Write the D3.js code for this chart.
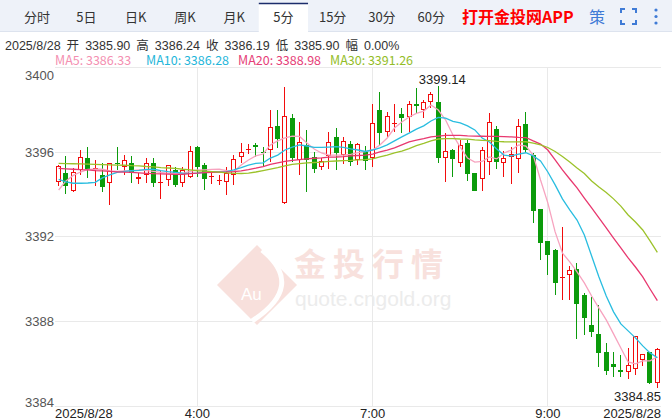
<!DOCTYPE html>
<html><head><meta charset="utf-8">
<script src="https://cdn.jsdelivr.net/npm/d3@7"></script>
<style>body{margin:0;background:#fff}svg{display:block;font-family:"Noto Sans CJK SC","Noto Sans",sans-serif}</style>
</head><body><svg id="c" width="672" height="420"></svg>
<script>
const categories=["2:25","2:30","2:35","2:40","2:45","2:50","2:55","3:00","3:05","3:10","3:15","3:20","3:25","3:30","3:35","3:40","3:45","3:50","3:55","4:00","4:05","4:10","4:15","4:20","4:25","4:30","4:35","4:40","4:45","4:50","4:55","5:00","6:05","6:10","6:15","6:20","6:25","6:30","6:35","6:40","6:45","6:50","6:55","7:00","7:05","7:10","7:15","7:20","7:25","7:30","7:35","7:40","7:45","7:50","7:55","8:00","8:05","8:10","8:15","8:20","8:25","8:30","8:35","8:40","8:45","8:50","8:55","9:00","9:05","9:10","9:15","9:20","9:25","9:30","9:35","9:40","9:45","9:50","9:55","10:00","10:05","10:10","10:15"];
const openV=[3394.60,3395.00,3394.14,3395.16,3395.71,3395.16,3394.92,3394.53,3395.49,3395.31,3395.47,3394.72,3394.92,3395.47,3394.58,3394.68,3395.16,3394.53,3394.84,3396.23,3395.39,3394.81,3394.67,3394.57,3394.92,3395.76,3396.13,3396.32,3395.99,3396.10,3397.24,3393.58,3397.63,3395.63,3396.34,3395.76,3395.28,3395.82,3396.70,3395.87,3396.37,3395.63,3396.02,3395.71,3397.99,3396.97,3397.35,3397.80,3397.65,3398.27,3397.99,3398.38,3398.36,3395.71,3396.10,3395.47,3396.42,3395.00,3394.72,3395.55,3397.08,3395.47,3395.76,3395.66,3397.33,3395.87,3393.30,3391.80,3391.38,3390.08,3390.17,3390.46,3389.25,3387.83,3387.41,3386.57,3385.99,3385.68,3385.61,3385.74,3386.18,3386.54,3385.08];
const highV=[3395.38,3395.82,3395.26,3396.10,3396.26,3395.63,3395.50,3395.50,3396.26,3395.87,3395.82,3395.01,3395.71,3395.71,3395.16,3395.40,3395.30,3395.31,3396.29,3396.29,3395.50,3395.03,3394.92,3395.28,3395.87,3396.42,3396.37,3396.42,3396.26,3397.99,3397.99,3399.09,3397.79,3397.44,3397.05,3396.02,3395.72,3396.97,3397.16,3396.73,3396.53,3396.43,3396.29,3398.26,3398.84,3397.91,3398.28,3398.07,3398.43,3399.02,3398.46,3398.86,3399.14,3396.92,3396.15,3396.57,3396.57,3395.03,3396.26,3397.84,3397.24,3396.07,3396.23,3397.55,3397.88,3395.96,3393.32,3391.82,3391.40,3392.45,3390.64,3390.75,3389.33,3389.15,3388.78,3387.00,3386.56,3386.41,3386.72,3387.31,3386.47,3386.56,3386.76];
const lowV=[3394.40,3394.02,3394.12,3394.92,3394.78,3394.40,3394.10,3393.49,3395.16,3394.92,3394.55,3394.50,3394.54,3394.34,3393.77,3394.40,3394.34,3394.37,3394.80,3394.84,3394.21,3394.49,3394.45,3393.97,3394.45,3395.47,3395.91,3395.78,3395.28,3395.55,3396.18,3393.55,3395.53,3394.92,3394.13,3395.03,3395.16,3395.19,3395.16,3395.44,3395.34,3395.39,3395.16,3395.28,3396.34,3396.73,3396.97,3396.89,3396.97,3397.85,3397.60,3398.07,3395.47,3394.60,3394.81,3395.28,3394.65,3394.15,3394.18,3394.92,3395.19,3394.81,3394.50,3395.00,3395.94,3392.64,3390.90,3390.19,3389.25,3389.01,3389.01,3387.16,3387.36,3387.26,3385.85,3385.47,3385.39,3385.36,3385.26,3385.47,3385.88,3385.05,3384.85];
const closeV=[3395.34,3394.40,3395.05,3395.76,3395.19,3395.25,3394.37,3395.47,3395.44,3395.63,3395.02,3394.84,3395.47,3394.56,3394.61,3395.38,3394.45,3395.16,3396.05,3395.28,3394.73,3394.86,3394.70,3395.00,3395.66,3395.99,3396.16,3396.23,3395.94,3397.17,3396.61,3397.71,3395.71,3396.46,3395.63,3395.19,3395.58,3396.46,3395.94,3396.54,3395.52,3396.37,3395.60,3397.36,3396.89,3397.71,3397.38,3397.63,3398.26,3398.18,3398.36,3398.73,3395.74,3396.07,3395.68,3396.34,3394.97,3394.18,3396.10,3397.41,3395.52,3395.71,3395.90,3397.22,3396.08,3393.23,3391.72,3391.14,3389.80,3390.11,3390.43,3388.81,3388.15,3387.51,3386.49,3385.67,3385.83,3385.63,3385.94,3387.29,3386.45,3385.08,3386.68];
const ma5=[3394.21,3394.64,3394.90,3395.06,3395.18,3395.20,3395.19,3395.11,3395.09,3395.11,3395.13,3395.16,3395.13,3395.09,3395.04,3395.00,3395.00,3395.00,3395.09,3395.16,3395.16,3395.18,3395.19,3395.13,3395.08,3395.39,3395.63,3395.82,3395.91,3396.34,3396.53,3396.67,3396.76,3396.74,3396.43,3396.15,3395.96,3395.86,3395.86,3395.86,3395.89,3395.98,3396.03,3396.10,3396.34,3396.67,3397.14,3397.42,3397.66,3397.83,3397.94,3398.23,3397.99,3397.52,3396.81,3396.24,3395.72,3395.53,3395.56,3395.77,3395.68,3395.96,3396.10,3396.34,3396.29,3395.86,3394.68,3393.60,3392.23,3391.23,3390.81,3390.34,3389.82,3389.20,3388.63,3388.07,3387.41,3386.74,3386.08,3385.99,3386.13,3386.13,3386.33];
const ma10=[3394.71,3394.59,3394.53,3394.53,3394.54,3394.57,3394.78,3394.92,3395.04,3395.09,3395.12,3395.14,3395.18,3395.19,3395.13,3395.08,3395.04,3395.01,3395.00,3395.01,3395.04,3395.06,3395.06,3395.08,3395.16,3395.27,3395.39,3395.47,3395.49,3395.72,3395.86,3396.10,3396.24,3396.34,3396.29,3396.22,3396.22,3396.24,3396.26,3396.22,3396.15,3396.10,3396.03,3396.10,3396.20,3396.34,3396.53,3396.72,3396.90,3397.09,3397.24,3397.47,3397.64,3397.61,3397.45,3397.38,3397.24,3397.05,3396.67,3396.48,3396.15,3395.86,3395.82,3395.91,3395.97,3395.82,3395.58,3395.06,3394.45,3393.79,3393.27,3392.79,3392.08,3391.09,3390.10,3389.20,3388.45,3387.88,3387.55,3387.22,3386.84,3386.51,3386.28];
const ma20=[3395.23,3395.21,3395.19,3395.17,3395.16,3395.13,3395.11,3395.09,3395.07,3395.05,3395.04,3395.02,3395.00,3394.98,3394.97,3394.96,3394.95,3394.95,3394.98,3395.01,3395.03,3395.04,3395.05,3395.06,3395.08,3395.11,3395.17,3395.24,3395.32,3395.42,3395.49,3395.56,3395.61,3395.65,3395.68,3395.71,3395.73,3395.76,3395.77,3395.79,3395.82,3395.84,3395.86,3395.91,3396.01,3396.10,3396.20,3396.34,3396.48,3396.57,3396.64,3396.72,3396.76,3396.79,3396.79,3396.79,3396.77,3396.76,3396.75,3396.74,3396.74,3396.73,3396.72,3396.70,3396.69,3396.53,3396.38,3396.10,3395.63,3395.16,3394.73,3394.31,3393.83,3393.36,3392.89,3392.42,3391.94,3391.47,3391.00,3390.57,3390.10,3389.53,3388.98];
const ma30=[3395.47,3395.46,3395.45,3395.44,3395.43,3395.42,3395.41,3395.40,3395.39,3395.38,3395.36,3395.35,3395.32,3395.30,3395.27,3395.25,3395.23,3395.19,3395.16,3395.12,3395.10,3395.08,3395.05,3395.02,3395.00,3394.99,3395.01,3395.06,3395.13,3395.20,3395.27,3395.35,3395.42,3395.46,3395.49,3395.51,3395.53,3395.56,3395.58,3395.60,3395.61,3395.63,3395.65,3395.68,3395.77,3395.86,3395.96,3396.05,3396.17,3396.31,3396.41,3396.53,3396.62,3396.64,3396.64,3396.62,3396.61,3396.58,3396.56,3396.54,3396.51,3396.49,3396.48,3396.48,3396.49,3396.43,3396.34,3396.22,3396.03,3395.79,3395.53,3395.25,3394.99,3394.64,3394.35,3394.09,3393.79,3393.45,3393.03,3392.70,3392.32,3391.80,3391.26];
const yTicks=[3384,3388,3392,3396,3400];
const xTicks=["4:00","7:00","9:00"];
const dateLabel="2025/8/28";
const tabs=["分时","5日","日K","周K","月K","5分","15分","30分","60分"];
const activeTab="5分";
const infoParts=["2025/8/28","开","3385.90","高","3386.24","收","3386.19","低","3385.90","幅","0.00%"];
const maNames=["MA5","MA10","MA20","MA30"];
const maLegendValues=["3386.33","3386.28","3388.98","3391.26"];

const svg=d3.select("#c");
const W=672,H=420,L=55,R=661,T=67.5,B=406;
const maColors=["#f7a3bf","#29bde0","#e8386f","#9cc22a"];
const legendColors=["#f48fb1","#1fb6da","#e63e77","#93bd28"];
const UP="#f20c0c",DOWN="#0b9b0b";

// header tab bar
svg.append("rect").attr("x",0).attr("y",0).attr("width",W).attr("height",31).attr("fill","#eef2f9");
svg.append("line").attr("x1",0).attr("x2",W).attr("y1",31.5).attr("y2",31.5).attr("stroke","#dde3ee");
const tx=d3.scaleBand().domain(tabs).range([12.5,455.8]);
svg.append("rect").attr("x",tx(activeTab)).attr("y",3).attr("width",tx.bandwidth()).attr("height",30).attr("fill","#fff");
svg.append("line").attr("x1",tx(activeTab)).attr("x2",tx(activeTab)+tx.bandwidth()).attr("y1",3.5).attr("y2",3.5).attr("stroke","#1c2d6b").attr("stroke-width",1.5);
svg.selectAll("text.tab").data(tabs).join("text").attr("class","tab")
  .attr("x",d=>tx(d)+tx.bandwidth()/2).attr("y",22).attr("text-anchor","middle")
  .attr("font-size",13).attr("fill","#333").text(d=>d);
svg.append("text").attr("x",462).attr("y",23).attr("font-size",16).attr("font-weight","bold").attr("fill","#f00").text("打开金投网APP");
svg.append("text").attr("x",589).attr("y",23).attr("font-size",16).attr("fill","#3f7bd6").text("策");
const fi=svg.append("g").attr("stroke","#3f7bd6").attr("stroke-width",2).attr("fill","none");
[[621,9,1,1],[636,9,-1,1],[621,24,1,-1],[636,24,-1,-1]].forEach(([cx,cy,sx,sy])=>{
  fi.append("path").attr("d",`M${cx},${cy+4*sy}V${cy}H${cx+4*sx}`);
});
[10,16.5,23].forEach(cy=>svg.append("circle").attr("cx",656).attr("cy",cy).attr("r",1.6).attr("fill","#3f7bd6"));

// info line: tokens laid out one after another with a fixed gap
let ix=5;
infoParts.forEach(p=>{
  const t=svg.append("text").attr("x",ix).attr("y",50).attr("font-family","'Liberation Sans','Noto Sans CJK SC',sans-serif")
    .attr("font-size",12.5).attr("fill","#333").text(p);
  ix+=t.node().getComputedTextLength()+6;
});
const lx=[55,146,238,330];
maNames.forEach((n,i)=>svg.append("text").attr("x",lx[i]).attr("y",65).attr("font-size",12.5).attr("fill",legendColors[i]).text(n+": "+maLegendValues[i]));

// scales
const x=d3.scaleBand().domain(categories).range([L,R]).paddingInner(0.3).paddingOuter(0.15);
const y=d3.scaleLinear().domain([3384,3400]).range([B,T]);
const cx=c=>x(c)+x.bandwidth()/2;

// grid
const grid=svg.append("g").attr("stroke","#e9e9e9").attr("stroke-width",1).attr("shape-rendering","crispEdges");
yTicks.forEach(v=>grid.append("line").attr("x1",L).attr("x2",R).attr("y1",y(v)).attr("y2",y(v)));
xTicks.forEach(t=>grid.append("line").attr("x1",cx(t)).attr("x2",cx(t)).attr("y1",T).attr("y2",B));

// watermark
const wm=svg.append("g");
wm.append("path").attr("d","M257,245L297,285L257,325L217,285Z").attr("fill","#f8e0dc");
wm.append("path").attr("d","M262,250Q306,286 252,321").attr("fill","none").attr("stroke","#fff").attr("stroke-width",5);
wm.append("text").attr("x",241).attr("y",300).attr("font-family","Liberation Sans").attr("font-size",17).attr("fill","#fff").text("Au");
wm.append("text").attr("x",294).attr("y",276).attr("font-size",32).attr("font-weight","bold").attr("letter-spacing",7).attr("fill","#f8e1dd").text("金投行情");
wm.append("text").attr("x",295).attr("y",306).attr("font-family","Liberation Sans").attr("font-size",21).attr("fill","#ececec").text("quote.cngold.org");

// axes
const yAxis=svg.append("g").attr("transform",`translate(${L},0)`)
  .call(d3.axisLeft(y).tickValues(yTicks).tickSize(0).tickPadding(1).tickFormat(d3.format("d")));
yAxis.select(".domain").remove();
yAxis.selectAll("text").attr("font-family","Liberation Sans").attr("font-size",13).attr("fill","#555")
  .attr("dy",d=>d===3400?"0.95em":d===3384?"0.02em":"0.32em");
const xAxis=svg.append("g").attr("transform",`translate(0,${B})`)
  .call(d3.axisBottom(x).tickValues(xTicks).tickSize(0).tickPadding(3));
xAxis.select(".domain").remove();
xAxis.selectAll("text").attr("font-family","Liberation Sans").attr("font-size",13).attr("fill","#222");
svg.append("text").attr("x",L).attr("y",418).attr("font-family","Liberation Sans").attr("font-size",13).attr("fill","#222").text(dateLabel);
svg.append("text").attr("x",R).attr("y",418).attr("text-anchor","end").attr("font-family","Liberation Sans").attr("font-size",13).attr("fill","#222").text(dateLabel);

// candles
const data=categories.map((c,i)=>({c,o:openV[i],h:highV[i],l:lowV[i],cl:closeV[i]}));
const cg=svg.append("g").attr("shape-rendering","crispEdges");
data.forEach(d=>{
  const up=d.cl>=d.o, col=up?UP:DOWN;
  const x0=Math.round(x(d.c)), w=5, xm=x0+2.5;
  cg.append("line").attr("x1",xm).attr("x2",xm).attr("y1",y(d.h)).attr("y2",y(d.l)).attr("stroke",col);
  const top=Math.round(y(Math.max(d.o,d.cl))), bot=Math.round(y(Math.min(d.o,d.cl)));
  const hgt=Math.max(1,bot-top);
  if(up){
    if(hgt<=2) cg.append("rect").attr("x",x0).attr("y",top).attr("width",w).attr("height",Math.max(1,hgt)).attr("fill",col);
    else cg.append("rect").attr("x",x0+0.5).attr("y",top+0.5).attr("width",w-1).attr("height",hgt-1).attr("fill","#fff").attr("stroke",col);
  } else {
    cg.append("rect").attr("x",x0).attr("y",top).attr("width",w).attr("height",hgt).attr("fill",col);
  }
});

// MA lines
[ma5,ma10,ma20,ma30].forEach((arr,k)=>{
  const line=d3.line().x((v,i)=>cx(categories[i])).y(v=>y(v));
  svg.append("path").attr("d",line(arr)).attr("fill","none").attr("stroke",maColors[k]).attr("stroke-width",1.3);
});

// high / low labels
const hi=d3.maxIndex(highV), lo=d3.minIndex(lowV);
svg.append("text").attr("x",cx(categories[hi])+4).attr("y",y(highV[hi])-1.5).attr("text-anchor","middle")
  .attr("font-family","Liberation Sans").attr("font-size",13).attr("fill","#222").text(d3.format(".2f")(highV[hi]));
svg.append("text").attr("x",R).attr("y",y(lowV[lo])+12.5).attr("text-anchor","end")
  .attr("font-family","Liberation Sans").attr("font-size",13).attr("fill","#222").text(d3.format(".2f")(lowV[lo]));
</script></body></html>
